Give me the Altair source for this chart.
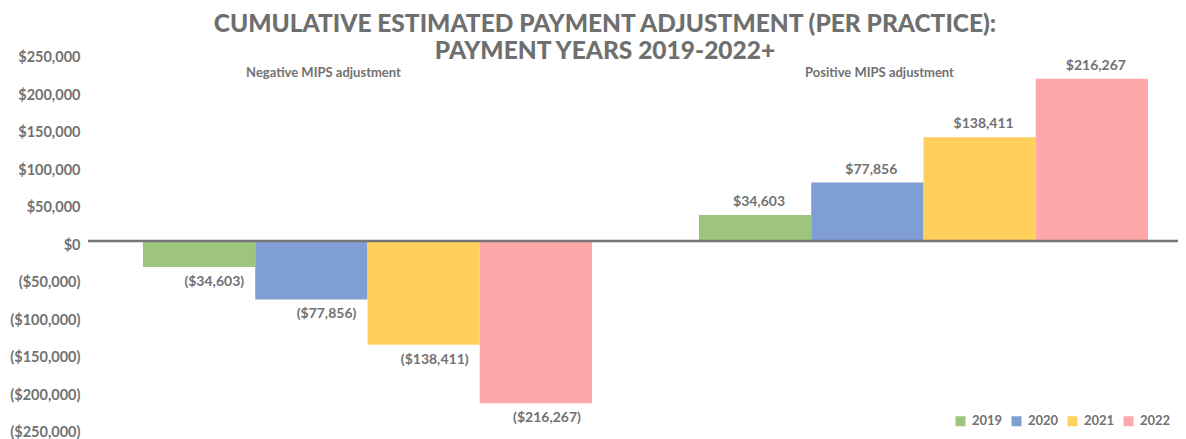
import altair as alt
import pandas as pd

groups = ["Negative", "Positive"]
group_labels = ["Negative MIPS adjustment", "Positive MIPS adjustment"]
years = ["2019", "2020", "2021", "2022"]
negative_values = [-34603, -77856, -138411, -216267]
positive_values = [34603, 77856, 138411, 216267]
colors = ["#9DC57E", "#7F9ED4", "#FFD15C", "#FFA8AA"]
y_ticks = [250000, 200000, 150000, 100000, 50000, 0, -50000, -100000, -150000, -200000, -250000]


def money(v):
    return f"(${-v:,})" if v < 0 else f"${v:,}"


rows = []
for g, vals in zip(groups, [negative_values, positive_values]):
    for y, v in zip(years, vals):
        rows.append({"group": g, "year": y, "value": v, "label": money(v)})
df = pd.DataFrame(rows)
gl = pd.DataFrame({"group": groups, "text": group_labels})

FONT = "Lato"
GRAY = "#717171"

x_enc = alt.X("group:N", sort=groups, axis=None,
              scale=alt.Scale(paddingInner=0.1924, paddingOuter=0.0764, align=0.647))
xo_enc = alt.XOffset("year:N", sort=years, scale=alt.Scale(paddingInner=0, paddingOuter=0))
y_axis = alt.Axis(values=y_ticks, grid=False, domain=False, ticks=False, tickSize=0,
                  labelPadding=8, labelOffset=4, labelFont=FONT, labelFontSize=14.5,
                  labelFontWeight="bold", labelColor=GRAY, labelOverlap=False, labelBound=False,
                  labelExpr="datum.value < 0 ? '($' + format(-datum.value, ',') + ')' : '$' + format(datum.value, ',')")
y_enc = alt.Y("value:Q", title=None,
              scale=alt.Scale(domain=[-250000, 250000], nice=False, zero=False),
              axis=y_axis)

bars = alt.Chart(df).mark_bar(opacity=1).encode(
    x=x_enc, xOffset=xo_enc, y=y_enc,
    color=alt.Color("year:N", sort=years, scale=alt.Scale(domain=years, range=colors),
                    legend=alt.Legend(title=None, orient="none", direction="horizontal",
                                      legendX=866, legendY=361, symbolType="square",
                                      symbolSize=100, symbolStrokeWidth=0, labelFont=FONT,
                                      labelFontSize=13, labelFontWeight="bold", labelColor=GRAY,
                                      labelOffset=5, columnPadding=7, symbolOpacity=1)),
)

neg_text = alt.Chart(df).transform_filter("datum.value < 0").mark_text(
    align="right", baseline="middle", dx=45, dy=15, font=FONT, fontSize=14,
    fontWeight="bold", color=GRAY).encode(x=x_enc, xOffset=xo_enc, y=y_enc, text="label:N")

pos_text = alt.Chart(df).transform_filter("datum.value > 0").mark_text(
    align="center", baseline="middle", dx=4, dy=-13, font=FONT, fontSize=14,
    fontWeight="bold", color=GRAY).encode(x=x_enc, xOffset=xo_enc, y=y_enc, text="label:N")

group_text = alt.Chart(gl).mark_text(
    align="center", baseline="middle", dx=-44, font=FONT, fontSize=13,
    fontWeight="bold", color=GRAY).encode(x=x_enc, y=alt.value(19.5), text="text:N")

zero = alt.Chart(pd.DataFrame({"value": [0]})).mark_rule(color="#767676", strokeWidth=2.5).encode(
    y=y_enc)

chart = alt.layer(bars, zero, neg_text, pos_text, group_text).properties(
    width=1090, height=375,
    autosize=alt.AutoSizeParams(type="none"),
    padding={"left": 80, "top": 45.5, "right": 0, "bottom": 10},
    title=alt.Title(["CUMULATIVE ESTIMATED PAYMENT ADJUSTMENT (PER PRACTICE):", "PAYMENT YEARS 2019-2022+"],
                    font=FONT, fontSize=24.5, fontWeight=900, color="#6f6f6f",
                    anchor="middle", dx=-28, dy=19, lineHeight=27),
).configure_view(stroke=None).configure_axis(labelOverlap=False)

chart.save("out.html", embed_options={"renderer": "svg", "actions": False})
